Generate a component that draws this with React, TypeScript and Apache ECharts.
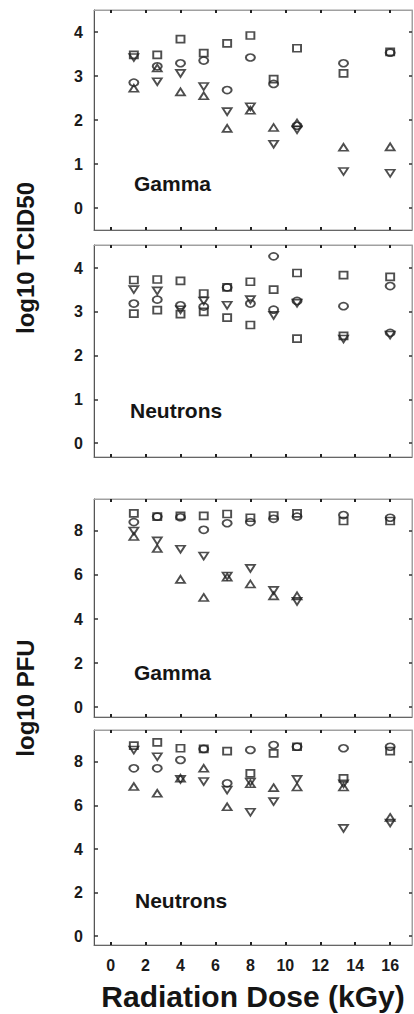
import React, { useEffect, useRef } from "react";
import * as echarts from "echarts";

// Doses (kGy)
const doses = [1.33, 2.67, 4, 5.33, 6.67, 8, 9.33, 10.67, 13.33, 16];
const xTicks = [0, 2, 4, 6, 8, 10, 12, 14, 16];
const tcidTicks = [0, 1, 2, 3, 4];
const pfuTicks = [0, 2, 4, 6, 8];

// Panel 1: Gamma, log10 TCID50
const gTcidSquare = [3.48, 3.48, 3.84, 3.52, 3.74, 3.92, 2.93, 3.63, 3.06, 3.55];
const gTcidCircle = [2.85, 3.22, 3.29, 3.35, 2.68, 3.42, 2.82, 1.87, 3.29, 3.53];
const gTcidTriUp = [2.72, 3.18, 2.64, 2.55, 1.81, 2.22, 1.83, 1.93, 1.38, 1.39];
const gTcidTriDown = [3.42, 2.87, 3.06, 2.76, 2.19, 2.3, 1.45, 1.78, 0.83, 0.79];

// Panel 2: Neutrons, log10 TCID50
const nTcidSquare = [3.73, 3.74, 3.71, 3.42, 3.56, 3.69, 3.51, 3.89, 3.84, 3.8];
const nTcidSquare2 = [2.96, 3.04, 2.95, 3.0, 2.87, 2.7, null, 2.39, 2.45, null];
const nTcidCircle = [3.19, 3.28, 3.15, 3.12, 3.56, 3.19, 4.27, 3.25, 3.13, 3.59];
const nTcidCircle2 = [null, null, null, null, null, null, 3.05, null, null, 2.52];
const nTcidTriDown = [3.51, 3.48, 3.05, 3.25, 3.15, 3.28, 2.92, 3.2, 2.38, 2.47];

// Panel 3: Gamma, log10 PFU
const gPfuSquare = [8.8, 8.65, 8.68, 8.68, 8.77, 8.6, 8.7, 8.8, 8.45, 8.45];
const gPfuCircle = [8.4, 8.65, 8.62, 8.05, 8.35, 8.4, 8.55, 8.65, 8.72, 8.6];
const gPfuTriUp = [7.75, 7.2, 5.8, 4.98, 5.9, 5.59, 5.05, 5.05, null, null];
const gPfuTriDown = [8.0, 7.55, 7.17, 6.86, 5.95, 6.3, 5.3, 4.8, null, null];

// Panel 4: Neutrons, log10 PFU
const nPfuSquare = [8.75, 8.9, 8.63, 8.6, 8.5, 7.48, 8.4, 8.7, 7.25, 8.5];
const nPfuCircle = [7.71, 7.71, 8.09, 8.6, 7.02, 8.55, 8.78, 8.7, 8.63, 8.7];
const nPfuTriUp = [6.87, 6.56, 7.25, 7.71, 5.94, 7.0, 6.82, 6.85, 6.85, 5.45];
const nPfuTriDown = [8.55, 8.24, 7.2, 7.1, 6.71, 5.69, 6.18, 7.2, 4.95, 5.2];
const nPfuTriDown2 = [null, null, null, null, null, 7.08, null, null, 7.0, null];

const panelLabels = ["Gamma", "Neutrons", "Gamma", "Neutrons"];
const yTitles = ["log10 TCID50", "log10 PFU"];
const xTitle = "Radiation Dose (kGy)";

const FONT = "'Liberation Sans', Arial, sans-serif";
const INK = "#222222";

type Sym = "rect" | "circle" | "up" | "down";

function symbolSeries(values: (number | null)[], sym: Sym, panel: number) {
  const data = doses
    .map((d, i) => [d, values[i]])
    .filter((p) => p[1] !== null && p[1] !== undefined);
  const base: any = {
    type: "scatter",
    xAxisIndex: panel * 2,
    yAxisIndex: panel * 2,
    data,
    silent: true,
    itemStyle: { color: "rgba(0,0,0,0)", borderColor: INK, borderWidth: 1.8 },
  };
  if (sym === "rect") {
    base.symbol = "rect";
    base.symbolSize = [8, 7];
  } else if (sym === "circle") {
    base.symbol = "circle";
    base.symbolSize = [9, 7];
  } else if (sym === "up") {
    base.symbol = "triangle";
    base.symbolSize = [9, 7];
  } else {
    base.symbol = "triangle";
    base.symbolSize = [9, 7];
    base.symbolRotate = 180;
  }
  return base;
}

export default function App() {
  const ref = useRef<HTMLDivElement>(null);

  useEffect(() => {
    if (!ref.current) return;
    const chart = echarts.init(ref.current, null, { renderer: "svg" });

    const tops = [10, 245, 499, 730];
    const heights = [220, 212, 218, 215];
    const yRanges = [
      [-0.5, 4.5],
      [-0.32, 4.53],
      [-0.45, 9.45],
      [-0.41, 9.47],
    ];
    const yTickSets = [tcidTicks, tcidTicks, pfuTicks, pfuTicks];

    const grids: any[] = [];
    const xAxes: any[] = [];
    const yAxes: any[] = [];
    for (let p = 0; p < 4; p++) {
      grids.push({
        left: 94,
        width: 318,
        top: tops[p],
        height: heights[p],
        show: true,
        borderColor: "#a0a0a0",
        borderWidth: 1,
        containLabel: false,
        outerBoundsMode: "none",
      });
      const isBottom = p === 3;
      xAxes.push({
        type: "value",
        gridIndex: p,
        position: "bottom",
        min: -0.95,
        max: 17.25,
        axisLine: { show: true, onZero: false, lineStyle: { color: "#666", width: 1 } },
        axisTick: {
          show: true,
          inside: true,
          length: 3,
          customValues: xTicks,
          lineStyle: { color: "#222", width: 2 },
        },
        axisLabel: {
          show: isBottom,
          customValues: xTicks,
          margin: 12,
          color: "#1a1a1a",
          fontFamily: FONT,
          fontWeight: "bold",
          fontSize: 16,
        },
        splitLine: { show: false },
      });
      xAxes.push({
        type: "value",
        gridIndex: p,
        position: "top",
        min: -0.95,
        max: 17.25,
        axisLine: { show: true, onZero: false, lineStyle: { color: "#a0a0a0", width: 1 } },
        axisTick: {
          show: true,
          inside: true,
          length: 3,
          customValues: xTicks,
          lineStyle: { color: "#222", width: 2 },
        },
        axisLabel: { show: false },
        splitLine: { show: false },
      });
      yAxes.push({
        type: "value",
        gridIndex: p,
        position: "left",
        min: yRanges[p][0],
        max: yRanges[p][1],
        axisLine: { show: true, onZero: false, lineStyle: { color: "#555", width: 1 } },
        axisTick: {
          show: true,
          inside: true,
          length: 4,
          customValues: yTickSets[p],
          lineStyle: { color: "#333", width: 1.5 },
        },
        axisLabel: {
          show: true,
          customValues: yTickSets[p],
          margin: 11,
          color: "#1a1a1a",
          fontFamily: FONT,
          fontWeight: "bold",
          fontSize: 16,
        },
        splitLine: { show: false },
      });
      yAxes.push({
        type: "value",
        gridIndex: p,
        position: "right",
        min: yRanges[p][0],
        max: yRanges[p][1],
        axisLine: { show: true, onZero: false, lineStyle: { color: "#a0a0a0", width: 1 } },
        axisTick: {
          show: true,
          inside: true,
          length: 3,
          customValues: yTickSets[p],
          lineStyle: { color: "#333", width: 1.5 },
        },
        axisLabel: { show: false },
        splitLine: { show: false },
      });
    }

    const series: any[] = [
      symbolSeries(gTcidSquare, "rect", 0),
      symbolSeries(gTcidCircle, "circle", 0),
      symbolSeries(gTcidTriUp, "up", 0),
      symbolSeries(gTcidTriDown, "down", 0),
      symbolSeries(nTcidSquare, "rect", 1),
      symbolSeries(nTcidSquare2, "rect", 1),
      symbolSeries(nTcidCircle, "circle", 1),
      symbolSeries(nTcidCircle2, "circle", 1),
      symbolSeries(nTcidTriDown, "down", 1),
      symbolSeries(gPfuSquare, "rect", 2),
      symbolSeries(gPfuCircle, "circle", 2),
      symbolSeries(gPfuTriUp, "up", 2),
      symbolSeries(gPfuTriDown, "down", 2),
      symbolSeries(nPfuSquare, "rect", 3),
      symbolSeries(nPfuCircle, "circle", 3),
      symbolSeries(nPfuTriUp, "up", 3),
      symbolSeries(nPfuTriDown, "down", 3),
      symbolSeries(nPfuTriDown2, "down", 3),
    ];

    const labelPos = [
      [134, 183],
      [130, 410],
      [134, 672],
      [135, 900],
    ];

    const graphic: any[] = [];
    panelLabels.forEach((t, i) => {
      graphic.push({
        type: "text",
        x: labelPos[i][0],
        y: labelPos[i][1],
        silent: true,
        style: {
          text: t,
          fill: "#151515",
          font: `bold 21px ${FONT}`,
          textAlign: "left",
          textVerticalAlign: "middle",
        },
      });
    });
    graphic.push({
      type: "text",
      x: 25,
      y: 258,
      rotation: Math.PI / 2,
      silent: true,
      style: {
        text: yTitles[0],
        fill: "#151515",
        font: `bold 24px ${FONT}`,
        textAlign: "center",
        textVerticalAlign: "middle",
      },
    });
    graphic.push({
      type: "text",
      x: 25,
      y: 698,
      rotation: Math.PI / 2,
      silent: true,
      style: {
        text: yTitles[1],
        fill: "#151515",
        font: `bold 24px ${FONT}`,
        textAlign: "center",
        textVerticalAlign: "middle",
      },
    });
    graphic.push({
      type: "text",
      x: 253,
      y: 996,
      silent: true,
      style: {
        text: xTitle,
        fill: "#151515",
        font: `bold 30px ${FONT}`,
        textAlign: "center",
        textVerticalAlign: "middle",
      },
    });

    chart.setOption({
      animation: false,
      backgroundColor: "#ffffff",
      grid: grids,
      xAxis: xAxes,
      yAxis: yAxes,
      series,
      graphic,
    });

    return () => {
      chart.dispose();
    };
  }, []);

  return (
    <div
      ref={ref}
      style={{ position: "fixed", left: 0, top: 0, width: 414, height: 1014 }}
    />
  );
}
